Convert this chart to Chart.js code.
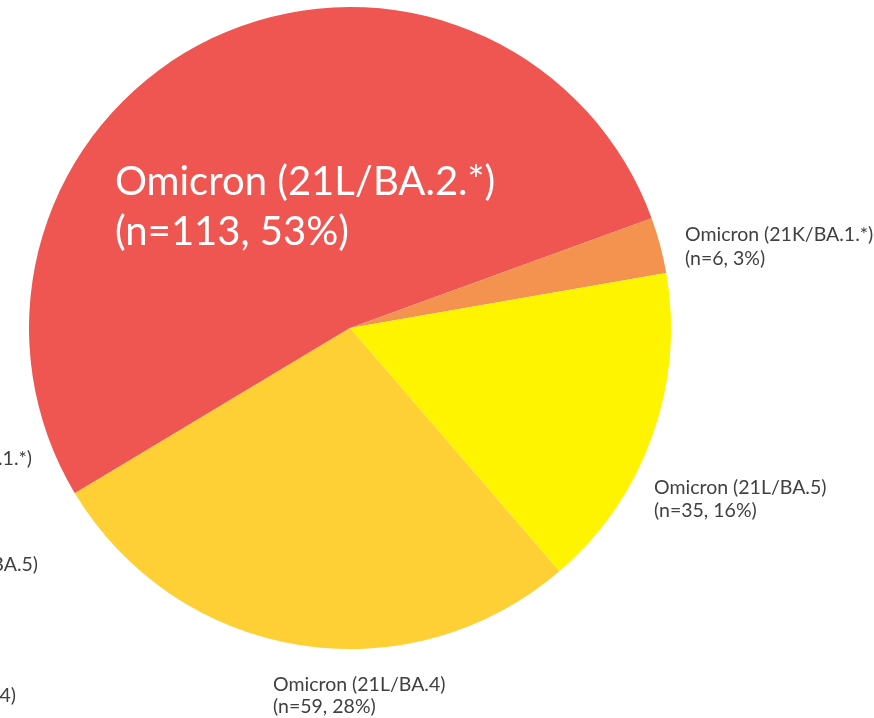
<!DOCTYPE html>
<html>
<head>
<meta charset="utf-8">
<script src="https://cdn.jsdelivr.net/npm/chart.js@4/dist/chart.umd.min.js"></script>
<style>
  html, body { margin: 0; padding: 0; background: #fff; }
  #wrap { width: 874px; height: 718px; position: relative; }
</style>
</head>
<body>
<div id="wrap"><canvas id="pieChart"></canvas></div>
<script>
// variants, clockwise starting from the big red slice
const variants = ["Omicron (21L/BA.2.*)", "Omicron (21K/BA.1.*)", "Omicron (21L/BA.5)", "Omicron (21L/BA.4)"];
const counts = [113, 6, 35, 59];
const shares = [53, 3, 16, 28];
const colors = ["#EF5651", "#F4924F", "#FFF400", "#FFD036"];

// labels of the neighbouring chart, cut off at the left border
const croppedLabels = ["Omicron (21K/BA.1.*)", "Omicron (21L/BA.5)", "Omicron (21L/BA.4)"];

// where each label sits (left x, centre y of first line), plus style
const labelBoxes = [
  { x: 115, y: 182, size: 40, gap: 50, color: "#ffffff" },
  { x: 685, y: 235, size: 19.5, gap: 24, color: "#404040" },
  { x: 654, y: 488, size: 19.5, gap: 23, color: "#404040" },
  { x: 273, y: 685, size: 19.5, gap: 22, color: "#404040" }
];
const croppedBoxes = [
  { x: 32, y: 459 },
  { x: 38, y: 565 },
  { x: 16, y: 696 }
];

const labelPlugin = {
  id: "sliceLabels",
  afterDatasetsDraw(chart) {
    const ctx = chart.ctx;
    ctx.save();
    ctx.textBaseline = "middle";

    variants.forEach((name, i) => {
      const b = labelBoxes[i];
      ctx.fillStyle = b.color;
      ctx.textAlign = "left";
      ctx.font = b.size + "px Lato, 'Open Sans', sans-serif";
      ctx.fillText(name, b.x, b.y);
      ctx.fillText("(n=" + counts[i] + ", " + shares[i] + "%)", b.x, b.y + b.gap);
    });

    ctx.fillStyle = "#404040";
    ctx.textAlign = "right";
    ctx.font = "19.5px Lato, 'Open Sans', sans-serif";
    croppedLabels.forEach((txt, i) => {
      ctx.fillText(txt, croppedBoxes[i].x, croppedBoxes[i].y);
    });
    ctx.restore();
  }
};

const ctx = document.getElementById("pieChart");

new Chart(ctx, {
  type: "pie",
  data: {
    labels: variants,
    datasets: [
      {
        label: "Samples",
        data: counts,
        backgroundColor: colors,
        borderWidth: 0
      }
    ]
  },
  options: {
    responsive: true,
    maintainAspectRatio: false,
    animation: false,
    rotation: 239,
    layout: {
      padding: { left: 29, right: 203, top: 7, bottom: 69 }
    },
    plugins: {
      legend: { display: false },
      tooltip: { enabled: false }
    }
  },
  plugins: [labelPlugin]
});
</script>
</body>
</html>
